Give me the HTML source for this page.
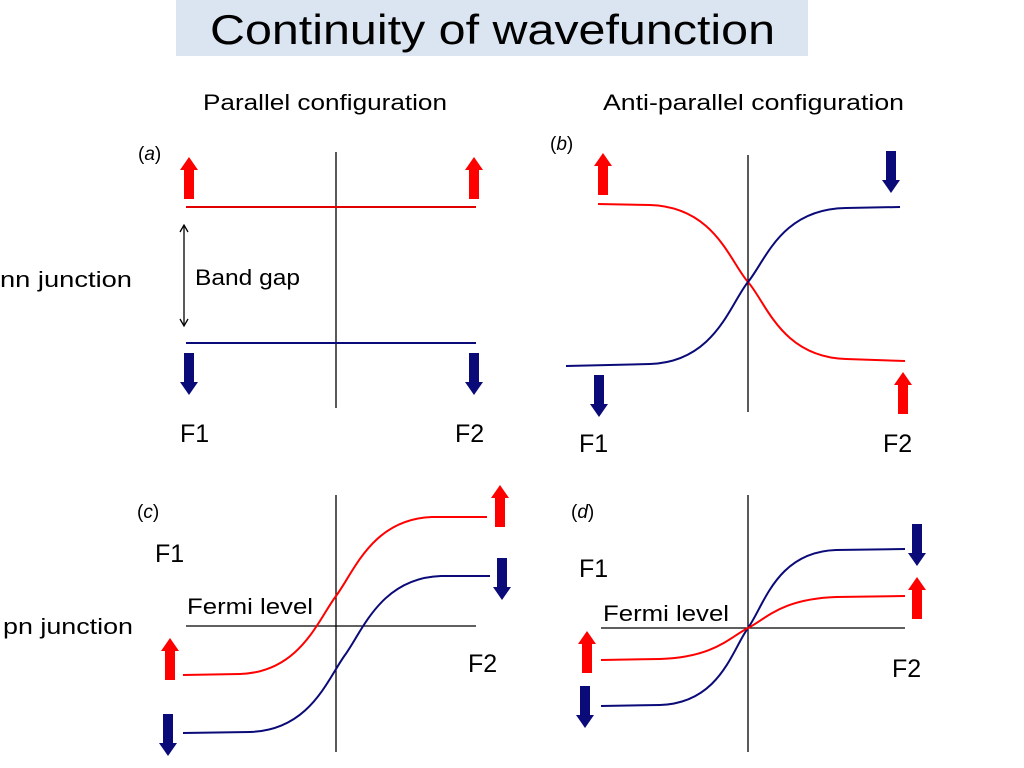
<!DOCTYPE html>
<html><head><meta charset="utf-8"><style>
body{margin:0;background:#fff;}
svg{display:block;font-family:"Liberation Sans",sans-serif;}
</style></head><body>
<svg width="1024" height="768" viewBox="0 0 1024 768">
<defs>
<polygon id="up" points="0,0 9,13 5,13 5,42 -5,42 -5,13 -9,13" />
<polygon id="dn" points="0,42 9,29 5,29 5,0 -5,0 -5,29 -9,29" />
</defs>
<rect x="176" y="0" width="632" height="56" fill="#dbe5f1"/>
<text x="210" y="44" font-size="42" textLength="565" lengthAdjust="spacingAndGlyphs" fill="#000">Continuity of wavefunction</text>
<g font-size="22" fill="#000">
<text x="203" y="110" textLength="244" lengthAdjust="spacingAndGlyphs">Parallel configuration</text>
<text x="603" y="110" textLength="301" lengthAdjust="spacingAndGlyphs">Anti-parallel configuration</text>
<text x="0" y="287" textLength="132" lengthAdjust="spacingAndGlyphs">nn junction</text>
<text x="3" y="634" textLength="130" lengthAdjust="spacingAndGlyphs">pn junction</text>
<text x="195" y="285" textLength="105" lengthAdjust="spacingAndGlyphs">Band gap</text>
<text x="187" y="614" textLength="126" lengthAdjust="spacingAndGlyphs">Fermi level</text>
<text x="603" y="621" textLength="126" lengthAdjust="spacingAndGlyphs">Fermi level</text>
<text x="138" y="160" font-size="19">(<tspan font-style="italic">a</tspan>)</text>
<text x="550" y="150" font-size="19">(<tspan font-style="italic">b</tspan>)</text>
<text x="137" y="518" font-size="19">(<tspan font-style="italic">c</tspan>)</text>
<text x="571" y="518" font-size="19">(<tspan font-style="italic">d</tspan>)</text>
</g>
<g font-size="25" fill="#000">
<text x="180" y="442">F1</text><text x="455" y="442">F2</text>
<text x="579" y="452">F1</text><text x="883" y="452">F2</text>
<text x="155" y="562">F1</text><text x="468" y="672">F2</text>
<text x="579" y="577">F1</text><text x="892" y="677">F2</text>
</g>
<g stroke="#000" stroke-width="1.3" fill="none">
<line x1="336" y1="152" x2="336" y2="408"/>
<line x1="748" y1="155" x2="748" y2="412"/>
<line x1="336" y1="495" x2="336" y2="752"/>
<line x1="748" y1="495" x2="748" y2="752"/>
<line x1="186" y1="626" x2="476" y2="626"/>
<line x1="601" y1="628" x2="905" y2="628"/>
<line x1="184" y1="226" x2="184" y2="325"/>
<polyline points="180,232 184,225 188,232"/>
<polyline points="180,319 184,326 188,319"/>
</g>
<g fill="none" stroke-width="2">
<line x1="186" y1="207" x2="476" y2="207" stroke="#e00000"/>
<line x1="186" y1="343" x2="476" y2="343" stroke="#0a0a78"/>
<path d="M598,204 L650,205 C715,207 730,262 748,282 C766,302 781,357 846,359 L905,361" stroke="#ff0000"/>
<path d="M566,366 L650,364 C715,362 730,304 748,282 C766,260 781,209 846,208 L900,207" stroke="#0a0a78"/>
<path d="M183,675 L240,674 C300,672 318,620 336,596 C354,572 372,519 432,517 L487,517" stroke="#ff0000"/>
<path d="M183,733 L250,732 C310,730 327,680 345,655 C363,630 381,578 441,576 L490,576" stroke="#0a0a78"/>
<path d="M601,706 L660,705 C720,703 732,650 748,628 C764,606 776,552 836,550 L905,549" stroke="#0a0a78"/>
<path d="M601,660 L660,659 C715,657 730,637 748,628 C766,619 781,599 836,597 L905,596" stroke="#ff0000"/>
</g>
<g fill="#ff0000">
<use href="#up" x="189" y="157"/><use href="#up" x="474" y="157"/>
<use href="#up" x="603" y="153"/><use href="#up" x="903" y="372"/>
<use href="#up" x="500" y="485"/><use href="#up" x="170" y="638"/>
<use href="#up" x="917" y="577"/><use href="#up" x="587" y="631"/>
</g>
<g fill="#0a0a78">
<use href="#dn" x="189" y="353"/><use href="#dn" x="474" y="353"/>
<use href="#dn" x="891" y="151"/><use href="#dn" x="599" y="375"/>
<use href="#dn" x="502" y="558"/><use href="#dn" x="168" y="714"/>
<use href="#dn" x="917" y="524"/><use href="#dn" x="585" y="686"/>
</g>
</svg>
</body></html>
